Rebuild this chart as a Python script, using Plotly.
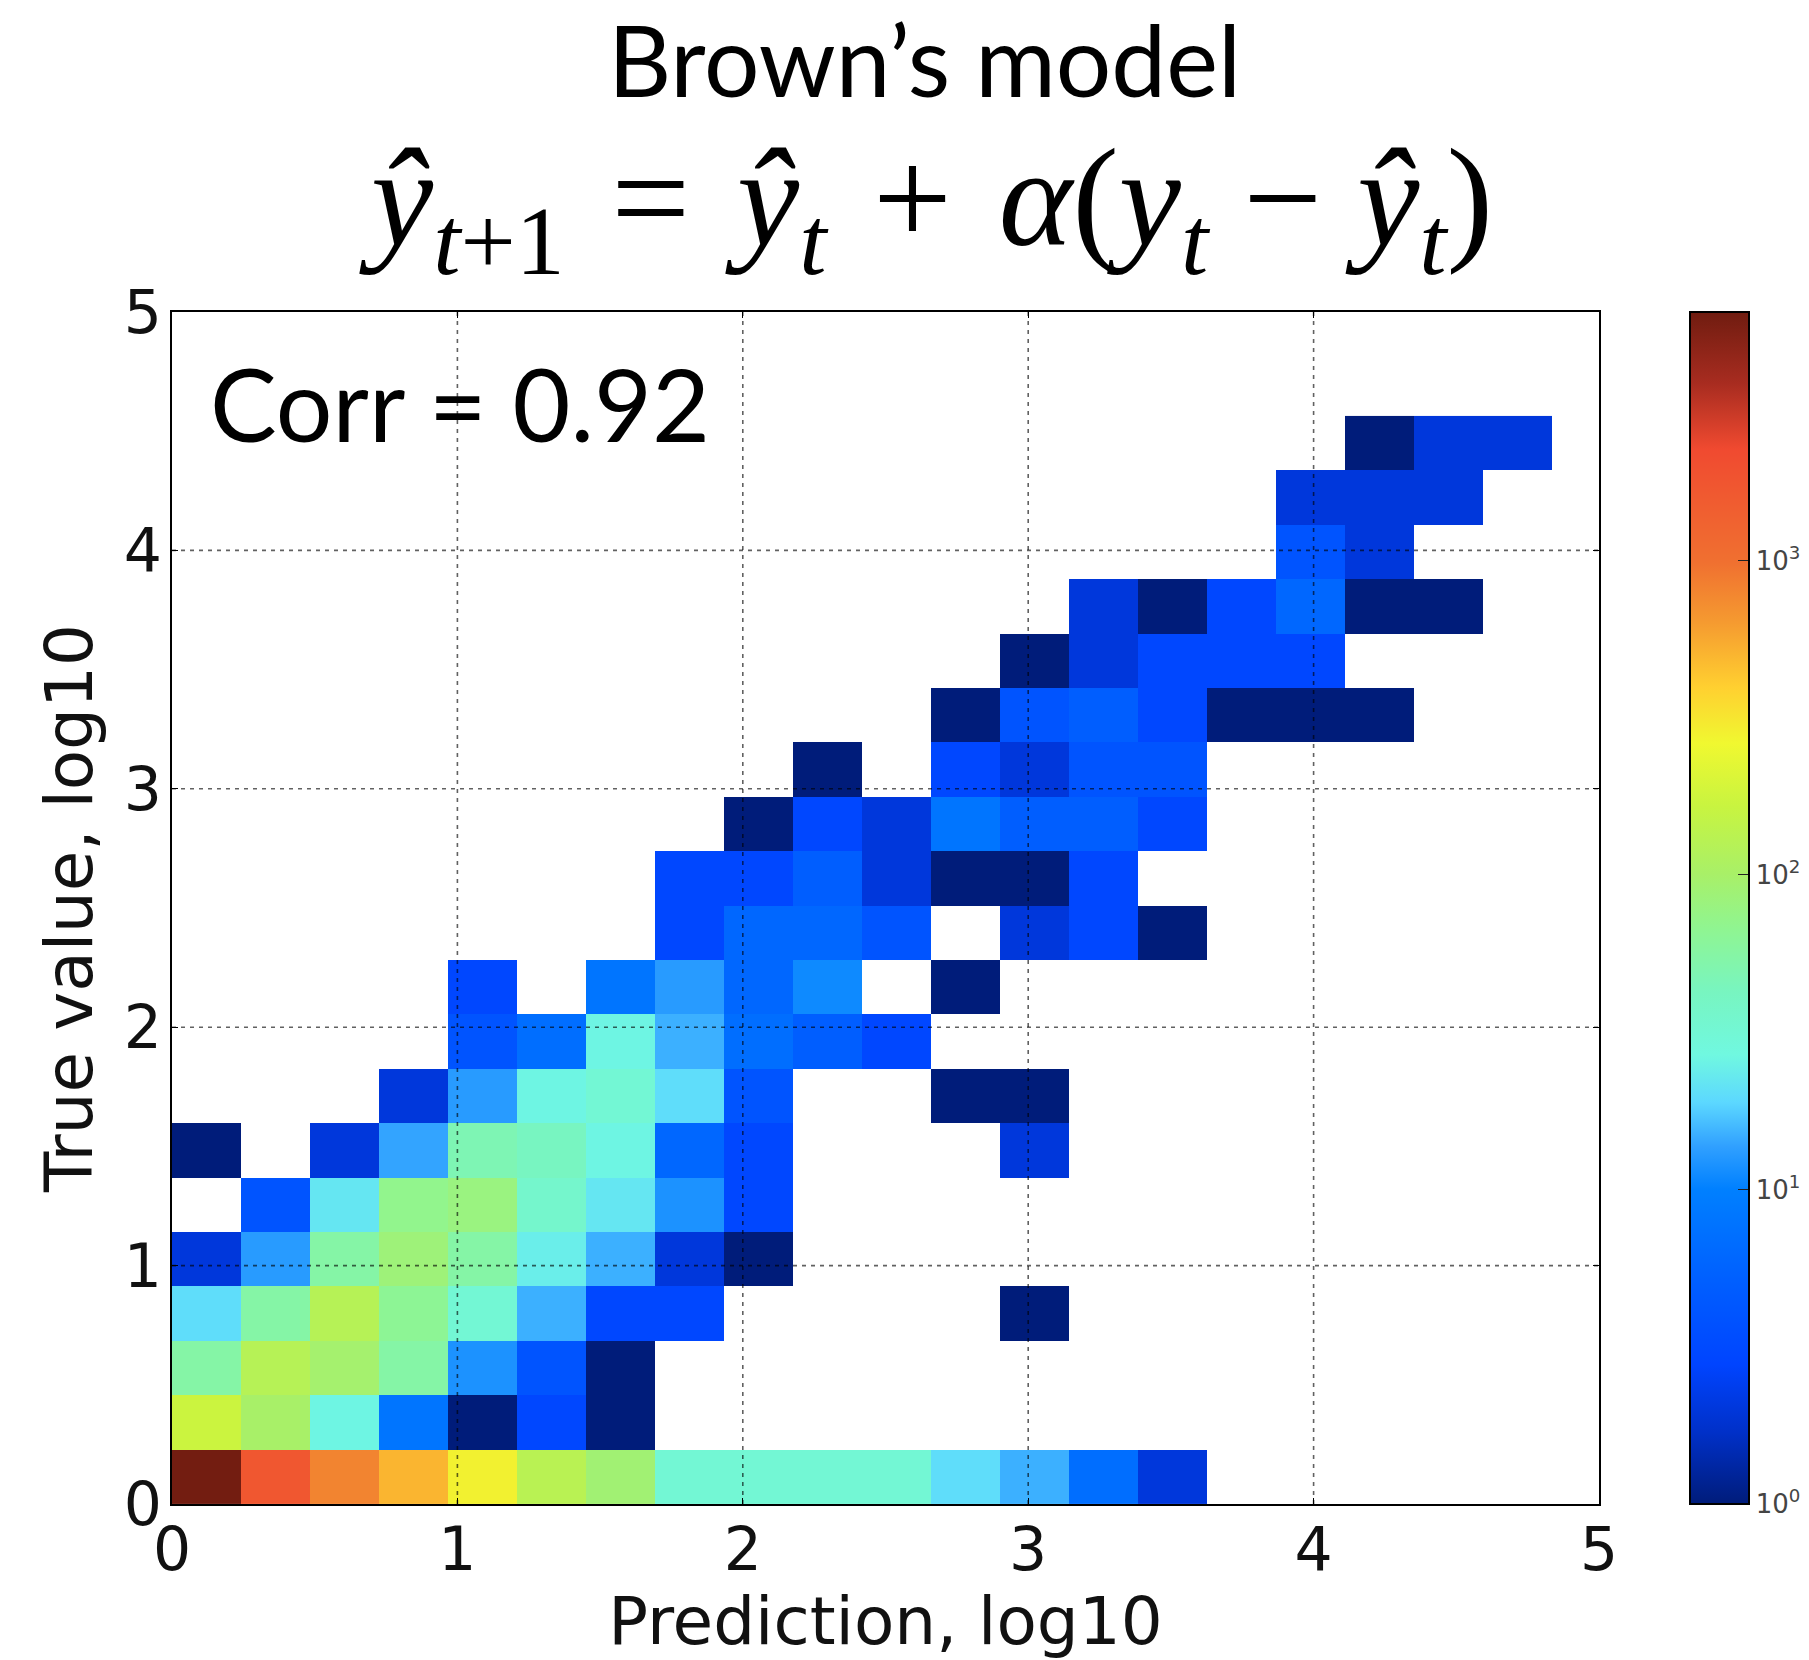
import math
import plotly.graph_objects as go

W, H = 1809, 1660
L, R, T, B = 172, 1599, 311.5, 1504.5

bin_width_x = 0.2418
bin_width_y = 0.2282
n_cols = 20

# Bin counts by row, bottom to top: {column index: count}
row_00 = {0: 6000, 1: 1700, 2: 800, 3: 500, 4: 280, 5: 130, 6: 90, 7: 32, 8: 32, 9: 32, 10: 32, 11: 20, 12: 15, 13: 7, 14: 2}
row_01 = {0: 170, 1: 100, 2: 26, 3: 8, 4: 1, 5: 3, 6: 1}
row_02 = {0: 55, 1: 125, 2: 95, 3: 55, 4: 12, 5: 4, 6: 1}
row_03 = {0: 20, 1: 55, 2: 125, 3: 65, 4: 32, 5: 15, 6: 3, 7: 3, 12: 1}
row_04 = {0: 2, 1: 13, 2: 55, 3: 85, 4: 55, 5: 24, 6: 15, 7: 2, 8: 1}
row_05 = {1: 4, 2: 22, 3: 70, 4: 80, 5: 36, 6: 22, 7: 12, 8: 3}
row_06 = {0: 1, 2: 2, 3: 14, 4: 48, 5: 42, 6: 26, 7: 6, 8: 3, 12: 2}
row_07 = {3: 2, 4: 13, 5: 26, 6: 32, 7: 20, 8: 4, 11: 1, 12: 1}
row_08 = {4: 4, 5: 7, 6: 26, 7: 15, 8: 7, 9: 5, 10: 3}
row_09 = {4: 3, 6: 8, 7: 13, 8: 6, 9: 11, 11: 1}
row_10 = {7: 3, 8: 6, 9: 6, 10: 4, 12: 2, 13: 3, 14: 1}
row_11 = {7: 3, 8: 3, 9: 5, 10: 2, 11: 1, 12: 1, 13: 3}
row_12 = {8: 1, 9: 3, 10: 2, 11: 8, 12: 5, 13: 5, 14: 3}
row_13 = {9: 1, 11: 3, 12: 2, 13: 4, 14: 4}
row_14 = {11: 1, 12: 4, 13: 5, 14: 3, 15: 1, 16: 1, 17: 1}
row_15 = {12: 1, 13: 2, 14: 3, 15: 3, 16: 3}
row_16 = {13: 2, 14: 1, 15: 3, 16: 6, 17: 1, 18: 1}
row_17 = {16: 4, 17: 2}
row_18 = {16: 2, 17: 2, 18: 2}
row_19 = {17: 1, 18: 2, 19: 2}
rows = [row_00, row_01, row_02, row_03, row_04, row_05, row_06, row_07, row_08, row_09,
        row_10, row_11, row_12, row_13, row_14, row_15, row_16, row_17, row_18, row_19]

axis_ticks = [0, 1, 2, 3, 4, 5]
cbar_ticks = [0, 1, 2, 3]
cbar_labels = ["10<sup>0</sup>", "10<sup>1</sup>", "10<sup>2</sup>", "10<sup>3</sup>"]
log_max = 3.79

jet_like = [
    [0.0, "#001c7a"], [0.06, "#0030c8"], [0.117, "#0044ff"], [0.19, "#0060ff"], [0.264, "#0080ff"],
    [0.30, "#30a0ff"], [0.337, "#5cd8ff"], [0.377, "#70f8e0"], [0.43, "#78f5c0"], [0.484, "#90f590"],
    [0.528, "#a8f068"], [0.585, "#c8f440"], [0.638, "#f0f830"], [0.685, "#ffd030"], [0.74, "#f59a30"],
    [0.79, "#f07030"], [0.885, "#f04a30"], [0.94, "#a82c20"], [1.0, "#701c10"],
]

x_edges = [i * bin_width_x for i in range(n_cols + 1)]
y_edges = [i * bin_width_y for i in range(len(rows) + 1)]
z = [[math.log10(r[c]) if c in r else None for c in range(n_cols)] for r in rows]

fig = go.Figure(go.Heatmap(
    x=x_edges, y=y_edges, z=z, zmin=0, zmax=log_max, colorscale=jet_like, zsmooth=False, hoverongaps=False,
    colorbar=dict(
        x=(1690 - L) / (R - L), xanchor="left", xpad=0, ypad=0,
        y=0.5, yanchor="middle",
        lenmode="fraction", len=1, thicknessmode="pixels", thickness=59,
        outlinecolor="#000", outlinewidth=2,
        tickmode="array", tickvals=cbar_ticks, ticktext=cbar_labels,
        ticks="inside", ticklen=12, tickcolor="#222", tickwidth=1,
        tickfont=dict(family="DejaVu Sans", size=26, color="#444"),
    ),
))

axis = dict(
    range=[0, 5], tickmode="array", tickvals=axis_ticks, ticks="inside", ticklen=6, tickcolor="#000",
    showline=True, linecolor="#000", linewidth=2, mirror="ticks", showgrid=False, zeroline=False,
    automargin=False,
    tickfont=dict(family="DejaVu Sans", size=60, color="#111"),
    title_font=dict(family="DejaVu Sans", size=66, color="#111"),
)
fig.update_layout(
    width=W, height=H, margin=dict(l=L, r=W - R, t=T, b=H - B, pad=0, autoexpand=False),
    paper_bgcolor="#fff", plot_bgcolor="#fff",
    xaxis=dict(axis, ticklabelstandoff=-8, title=dict(text="Prediction, log10", standoff=10)),
    yaxis=dict(axis, ticklabelstandoff=-4, title=dict(text="True value, log10", standoff=10)),
)

grid = dict(color="rgba(0,0,0,0.62)", width=1.6, dash="4px,5px")
for t in axis_ticks[1:-1]:
    fig.add_shape(type="line", xref="x", yref="paper", x0=t, x1=t, y0=0, y1=1, line=grid, layer="above")
    fig.add_shape(type="line", xref="paper", yref="y", x0=0, x1=1, y0=t, y1=t, line=grid, layer="above")

def note(text, px, py, size, family, anchor="center"):
    fig.add_annotation(text=text, xref="paper", yref="paper",
                       x=(px - L) / (R - L), y=(B - py) / (B - T), xanchor=anchor,
                       yanchor="middle", showarrow=False, font=dict(family=family, size=size, color="#000"))

note("Brown’s model", 924, 58, 98, "Lato")
note("<i>ŷ</i><sub><i>t</i>+1</sub> \u200a=\u200a <i>ŷ<sub>t</sub></i> \u200a+\u200a <i>α</i>(<i>y<sub>t</sub></i> − <i>ŷ<sub>t</sub></i>)",
     926, 207, 140, "Liberation Serif")
note("Corr = 0.92", 208, 403, 100, "Lato", "left")

fig.write_html("out.html", config=dict(displayModeBar=False), post_script="document.body.style.margin='0';")
